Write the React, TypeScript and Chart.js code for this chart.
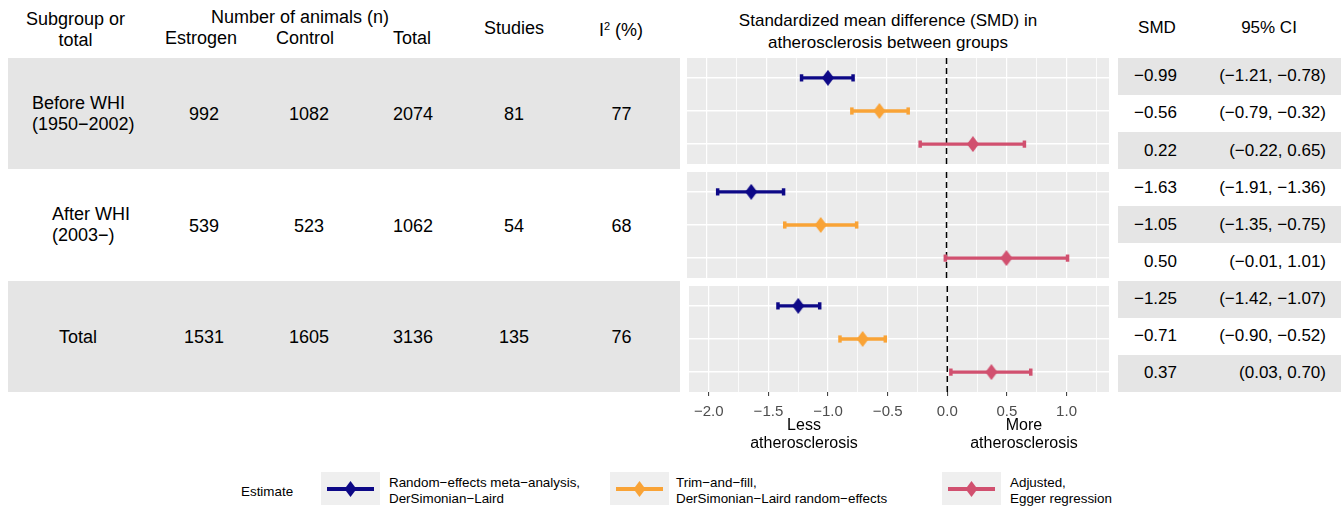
import React, { useEffect, useRef } from "react";
import { Chart, registerables } from "chart.js";
Chart.register(...registerables);

// ---------- data ----------
const subgroups = ["Before WHI\n(1950\u22122002)", "After WHI\n(2003\u2212)", "Total"];
const nEstrogen = [992, 539, 1531];
const nControl = [1082, 523, 1605];
const nTotal = [2074, 1062, 3136];
const nStudies = [81, 54, 135];
const i2Percent = [77, 68, 76];

const estimators = [
  "Random\u2212effects meta\u2212analysis,\nDerSimonian\u2212Laird",
  "Trim\u2212and\u2212fill,\nDerSimonian\u2212Laird random\u2212effects",
  "Adjusted,\nEgger regression",
];
const estColors = ["#0D0887", "#F9A336", "#D1506F"];

// SMD and 95% CI per subgroup (Before WHI, After WHI, Total)
const smdRE = [-0.99, -1.63, -1.25];
const loRE = [-1.21, -1.91, -1.42];
const hiRE = [-0.78, -1.36, -1.07];
const smdTF = [-0.56, -1.05, -0.71];
const loTF = [-0.79, -1.35, -0.9];
const hiTF = [-0.32, -0.75, -0.52];
const smdEG = [0.22, 0.5, 0.37];
const loEG = [-0.22, -0.01, 0.03];
const hiEG = [0.65, 1.01, 0.7];

const xMajorTicks = [-2.0, -1.5, -1.0, -0.5, 0.0, 0.5, 1.0];
const xMinorTicks = [-1.75, -1.25, -0.75, -0.25, 0.25, 0.75, 1.25];
const xLimits = [-2.166, 1.356];
const directionLabels = ["Less\natherosclerosis", "More\natherosclerosis"];

// ---------- helpers / style ----------
const FONT = '"Liberation Sans", Arial, Helvetica, sans-serif';
const MINUS = "\u2212";
const fmt2 = (v: number) => (v < 0 ? MINUS : "") + Math.abs(v).toFixed(2);
const fmt1 = (v: number) => (v < 0 ? MINUS : "") + Math.abs(v).toFixed(1);
const isMajor = (v: number) => xMajorTicks.some((m) => Math.abs(m - v) < 1e-9);

const PANEL_LEFT = 687;
const PANEL_W = 422;
const PANEL_TOPS = [58, 172, 286];
const PANEL_H = 106;
const AXIS_H = 32;

function makeDiamond(color: string) {
  const c = document.createElement("canvas");
  c.width = 12;
  c.height = 16;
  const g = c.getContext("2d")!;
  g.fillStyle = color;
  g.beginPath();
  g.moveTo(6, 0);
  g.lineTo(12, 8);
  g.lineTo(6, 16);
  g.lineTo(0, 8);
  g.closePath();
  g.fill();
  return c;
}

const panelPlugin = {
  id: "panelDeco",
  beforeDraw(chart: any) {
    const { ctx, chartArea: a } = chart;
    ctx.save();
    ctx.fillStyle = "#EBEBEB";
    ctx.fillRect(a.left, a.top, a.right - a.left, a.bottom - a.top);
    ctx.restore();
  },
  beforeDatasetsDraw(chart: any) {
    const { ctx, chartArea: a, scales } = chart;
    const x0 = scales.x.getPixelForValue(0);
    ctx.save();
    ctx.strokeStyle = "#000";
    ctx.lineWidth = 1.5;
    ctx.setLineDash([6, 4]);
    ctx.beginPath();
    ctx.moveTo(x0, a.top);
    ctx.lineTo(x0, a.bottom);
    ctx.stroke();
    ctx.restore();
  },
};

function Panel({ idx }: { idx: number }) {
  const ref = useRef<HTMLCanvasElement>(null);
  const showAxis = idx === subgroups.length - 1;
  const h = PANEL_H + (showAxis ? AXIS_H : 0);
  useEffect(() => {
    const est = [smdRE, smdTF, smdEG];
    const lo = [loRE, loTF, loEG];
    const hi = [hiRE, hiTF, hiEG];
    const datasets: any[] = [];
    estimators.forEach((_, k) => {
      const col = estColors[k];
      datasets.push({
        label: "est" + k,
        data: [{ x: est[k][idx], y: k }],
        pointStyle: makeDiamond(col),
        pointRadius: 8,
        showLine: false,
      });
      datasets.push({
        label: "ci" + k,
        data: [
          { x: lo[k][idx], y: k },
          { x: hi[k][idx], y: k },
        ],
        showLine: true,
        borderColor: col,
        borderWidth: 3.3,
        borderCapStyle: "butt",
        pointStyle: "line",
        pointRotation: 90,
        pointRadius: 3.6,
        pointBorderWidth: 3.5,
        pointBorderColor: col,
        pointBackgroundColor: col,
      });
    });
    const chart = new Chart(ref.current!, {
      type: "scatter",
      data: { datasets },
      options: {
        animation: false,
        responsive: false,
        devicePixelRatio: 1,
        events: [],
        layout: { padding: 0, autoPadding: false },
        plugins: { legend: { display: false }, tooltip: { enabled: false } },
        scales: {
          x: {
            type: "linear",
            min: xLimits[0],
            max: xLimits[1],
            afterBuildTicks: (s: any) => {
              s.ticks = [...xMajorTicks, ...xMinorTicks]
                .sort((a, b) => a - b)
                .map((v) => ({ value: v }));
            },
            afterFit: showAxis
              ? (s: any) => {
                  s.height = AXIS_H;
                }
              : undefined,
            ticks: {
              display: showAxis,
              autoSkip: false,
              maxRotation: 0,
              padding: 7,
              color: "#4D4D4D",
              font: { family: FONT, size: 15 },
              callback: (v: any) => (isMajor(Number(v)) ? fmt1(Number(v)) : ""),
            },
            grid: {
              color: "#FFFFFF",
              lineWidth: (c: any) => (c.tick && isMajor(c.tick.value) ? 1.2 : 0.8),
              drawTicks: showAxis,
              tickLength: 4,
              tickWidth: 1,
              tickColor: (c: any) =>
                c.tick && isMajor(c.tick.value) ? "#333333" : "rgba(0,0,0,0)",
            },
            border: { display: false },
          },
          y: {
            type: "linear",
            min: -0.6,
            max: 2.6,
            reverse: true,
            afterBuildTicks: (s: any) => {
              s.ticks = estimators.map((_, k) => ({ value: k }));
            },
            ticks: { display: false },
            grid: { color: "#FFFFFF", lineWidth: 1.4, drawTicks: false },
            border: { display: false },
          },
        },
      } as any,
      plugins: [panelPlugin],
    });
    return () => chart.destroy();
  }, []);
  return (
    <canvas
      ref={ref}
      width={PANEL_W}
      height={h}
      style={{ position: "absolute", left: PANEL_LEFT, top: PANEL_TOPS[idx], width: PANEL_W, height: h }}
    />
  );
}

type TxtProps = {
  x: number;
  y: number;
  size?: number;
  lh?: number;
  align?: "left" | "center" | "right";
  color?: string;
  children: React.ReactNode;
};
function Txt({ x, y, size = 18, lh, align = "center", color = "#000", children }: TxtProps) {
  const tx = align === "center" ? "-50%" : align === "right" ? "-100%" : "0";
  return (
    <div
      style={{
        position: "absolute",
        left: x,
        top: y,
        transform: `translate(${tx}, -50%)`,
        fontSize: size,
        lineHeight: (lh ?? Math.round(size * 1.15)) + "px",
        whiteSpace: "pre",
        textAlign: align,
        color,
      }}
    >
      {children}
    </div>
  );
}

const ROW_TOP = 57.7;
const ROW_BOTTOM = 392;

function LegendKey({ color, left }: { color: string; left: number }) {
  return (
    <div style={{ position: "absolute", left, top: 472, width: 59, height: 33, background: "#EFEFEF" }}>
      <div style={{ position: "absolute", left: 6, top: 15, width: 47, height: 4, background: color }} />
      <div
        style={{
          position: "absolute",
          left: 23.5,
          top: 9,
          width: 12,
          height: 16,
          background: color,
          clipPath: "polygon(50% 0, 100% 50%, 50% 100%, 0 50%)",
        }}
      />
    </div>
  );
}

export default function App() {
  const leftRowH = (ROW_BOTTOM - ROW_TOP) / subgroups.length;
  const rightRows: { smd: number; lo: number; hi: number }[] = [];
  subgroups.forEach((_, i) => {
    rightRows.push({ smd: smdRE[i], lo: loRE[i], hi: hiRE[i] });
    rightRows.push({ smd: smdTF[i], lo: loTF[i], hi: hiTF[i] });
    rightRows.push({ smd: smdEG[i], lo: loEG[i], hi: hiEG[i] });
  });
  const rightRowH = (ROW_BOTTOM - ROW_TOP) / rightRows.length;
  const subgroupLeft = [32, 52, 59];
  const legendBoxLeft = [321, 610, 942];
  const legendTextLeft = [389, 676, 1010];

  return (
    <div
      style={{
        position: "absolute",
        left: 0,
        top: 0,
        width: 1341,
        height: 511,
        background: "#fff",
        fontFamily: FONT,
        color: "#000",
        overflow: "hidden",
      }}
    >
      {/* left table bands */}
      {subgroups.map((_, i) =>
        i % 2 === 0 ? (
          <div
            key={"lb" + i}
            style={{
              position: "absolute",
              left: 8,
              top: ROW_TOP + i * leftRowH,
              width: 672,
              height: leftRowH,
              background: "#E5E5E5",
            }}
          />
        ) : null
      )}
      {/* right table bands */}
      {rightRows.map((_, j) =>
        j % 2 === 0 ? (
          <div
            key={"rb" + j}
            style={{
              position: "absolute",
              left: 1117.5,
              top: ROW_TOP + j * rightRowH,
              width: 224,
              height: rightRowH,
              background: "#E5E5E5",
            }}
          />
        ) : null
      )}

      {/* headers */}
      <Txt x={75.5} y={29.5} lh={21}>{"Subgroup or\ntotal"}</Txt>
      <Txt x={300} y={17}>Number of animals (n)</Txt>
      <Txt x={201} y={38}>Estrogen</Txt>
      <Txt x={305} y={38}>Control</Txt>
      <Txt x={412} y={38}>Total</Txt>
      <Txt x={514} y={28}>Studies</Txt>
      <Txt x={621} y={28}>
        <span>
          I<sup style={{ fontSize: 11, verticalAlign: "6px" }}>2</sup> (%)
        </span>
      </Txt>
      <Txt x={888} y={31.5} size={17} lh={22.5}>
        {"Standardized mean difference (SMD) in\natherosclerosis between groups"}
      </Txt>
      <Txt x={1157} y={28} size={17}>SMD</Txt>
      <Txt x={1269} y={28} size={17}>95% CI</Txt>

      {/* left table rows */}
      {subgroups.map((s, i) => {
        const cy = ROW_TOP + (i + 0.5) * leftRowH + 1;
        return (
          <React.Fragment key={"row" + i}>
            <Txt x={subgroupLeft[i]} y={cy - 0.5} lh={21} align="left">{s}</Txt>
            <Txt x={204} y={cy}>{String(nEstrogen[i])}</Txt>
            <Txt x={309} y={cy}>{String(nControl[i])}</Txt>
            <Txt x={413} y={cy}>{String(nTotal[i])}</Txt>
            <Txt x={514} y={cy}>{String(nStudies[i])}</Txt>
            <Txt x={621.5} y={cy}>{String(i2Percent[i])}</Txt>
          </React.Fragment>
        );
      })}

      {/* right table rows */}
      {rightRows.map((r, j) => {
        const cy = ROW_TOP + (j + 0.5) * rightRowH;
        return (
          <React.Fragment key={"rr" + j}>
            <Txt x={1177} y={cy} size={17} align="right">{fmt2(r.smd)}</Txt>
            <Txt x={1326} y={cy} size={17} align="right">{`(${fmt2(r.lo)}, ${fmt2(r.hi)})`}</Txt>
          </React.Fragment>
        );
      })}

      {/* forest panels */}
      {subgroups.map((_, i) => (
        <Panel key={"p" + i} idx={i} />
      ))}

      {/* direction labels */}
      <Txt x={804} y={434} size={16} lh={18}>{directionLabels[0]}</Txt>
      <Txt x={1024} y={434} size={16} lh={18}>{directionLabels[1]}</Txt>

      {/* legend */}
      <Txt x={241} y={491} size={13.4} align="left">Estimate</Txt>
      {estimators.map((e, k) => (
        <React.Fragment key={"lg" + k}>
          <LegendKey color={estColors[k]} left={legendBoxLeft[k]} />
          <Txt x={legendTextLeft[k]} y={491} size={13.4} lh={16} align="left">{e}</Txt>
        </React.Fragment>
      ))}
    </div>
  );
}
